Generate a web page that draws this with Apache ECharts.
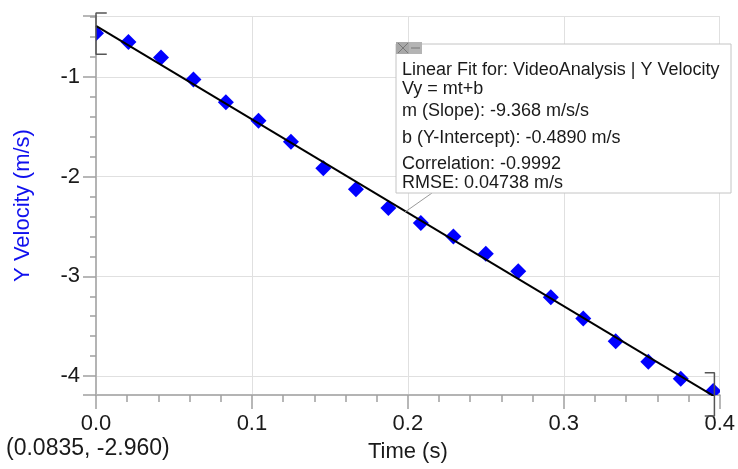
<!DOCTYPE html>
<html>
<head>
<meta charset="utf-8">
<script src="https://cdn.jsdelivr.net/npm/echarts@6/dist/echarts.min.js"></script>
<style>
  html, body { margin: 0; padding: 0; background: #fff; }
  #chart { width: 738px; height: 469px; }
</style>
</head>
<body>
<div id="chart"></div>
<script>
  // measured points (time in s, Y velocity in m/s)
  const timeS = [0, 0.0208, 0.0417, 0.0625, 0.0833, 0.1042, 0.125, 0.1458, 0.1667, 0.1875,
                 0.2083, 0.2292, 0.25, 0.2708, 0.2917, 0.3125, 0.3333, 0.3542, 0.375, 0.3958];
  const yVelocity = [-0.563, -0.65, -0.806, -1.026, -1.256, -1.44, -1.65, -1.916, -2.126, -2.316,
                     -2.466, -2.6, -2.773, -2.95, -3.21, -3.423, -3.65, -3.856, -4.026, -4.15];

  // linear fit Vy = mt+b drawn across the time range
  const fitLine = [[0, -0.489], [0.4, -4.236]];

  // range brackets at both ends of the fit
  const startBracket = [[0.0069, -0.36], [0, -0.36], [0, -0.773], [0.0069, -0.773]];
  const endBracket = [[0.3904, -3.966], [0.3966, -3.966], [0.3966, -4.40], [0.3904, -4.40]];

  const fitText = [
    'Linear Fit for: VideoAnalysis | Y Velocity',
    'Vy = mt+b',
    'm (Slope): -9.368 m/s/s',
    'b (Y-Intercept): -0.4890 m/s',
    'Correlation: -0.9992',
    'RMSE: 0.04738 m/s'
  ];
  const cursorText = '(0.0835, -2.960)';

  const font = '"Liberation Sans", Arial, sans-serif';
  const textRowY = [70, 89, 111, 138.5, 164.5, 183];

  const points = timeS.map((t, i) => [t, yVelocity[i]]);

  const chart = echarts.init(document.getElementById('chart'));

  const boxGraphics = [
    {
      type: 'rect', z: 10,
      shape: { x: 396, y: 44, width: 335, height: 149 },
      style: { fill: '#fff', stroke: '#c4c4c4', lineWidth: 1 }
    },
    {
      type: 'rect', z: 11,
      shape: { x: 396, y: 42, width: 13, height: 12 },
      style: { fill: '#a8a8a8' }
    },
    {
      type: 'rect', z: 11,
      shape: { x: 409, y: 42, width: 13, height: 12 },
      style: { fill: '#b4b4b4' }
    },
    {
      type: 'line', z: 12,
      shape: { x1: 398, y1: 43, x2: 408, y2: 53 },
      style: { stroke: '#777', lineWidth: 1 }
    },
    {
      type: 'line', z: 12,
      shape: { x1: 408, y1: 43, x2: 398, y2: 53 },
      style: { stroke: '#777', lineWidth: 1 }
    },
    {
      type: 'line', z: 12,
      shape: { x1: 411, y1: 48, x2: 420, y2: 48 },
      style: { stroke: '#777', lineWidth: 1 }
    },
    {
      type: 'line', z: 9,
      shape: { x1: 432, y1: 193, x2: 405, y2: 212 },
      style: { stroke: '#9a9a9a', lineWidth: 1 }
    }
  ];

  fitText.forEach((s, i) => {
    boxGraphics.push({
      type: 'text', z: 12,
      x: 402, y: textRowY[i],
      style: {
        text: s, fill: '#1a1a1a', font: '18px ' + font,
        textVerticalAlign: 'middle', textAlign: 'left'
      }
    });
  });

  boxGraphics.push({
    type: 'text', z: 12,
    x: 6, y: 449,
    style: {
      text: cursorText, fill: '#1a1a1a', font: '23px ' + font,
      textVerticalAlign: 'middle', textAlign: 'left'
    }
  });

  chart.setOption({
    animation: false,
    backgroundColor: '#fff',
    grid: { left: 96, right: 18, top: 16, bottom: 74 },
    xAxis: {
      type: 'value',
      min: 0,
      max: 0.4,
      interval: 0.1,
      name: 'Time (s)',
      nameLocation: 'middle',
      nameGap: 46,
      nameTextStyle: { color: '#1a1a1a', fontSize: 22, fontFamily: font },
      axisLine: { onZero: false, lineStyle: { color: '#b4b4b4', width: 2 } },
      axisTick: { length: 14, lineStyle: { color: '#a0a0a0', width: 1.5 } },
      minorTick: { show: true, splitNumber: 5, length: 7, lineStyle: { color: '#a0a0a0', width: 1.5 } },
      axisLabel: {
        color: '#1a1a1a', fontSize: 22, fontFamily: font, margin: 18,
        formatter: v => v.toFixed(1)
      },
      splitLine: { show: true, lineStyle: { color: '#e0e0e0', width: 1 } }
    },
    yAxis: {
      type: 'value',
      min: -4.19,
      max: -0.39,
      name: 'Y Velocity (m/s)',
      nameLocation: 'middle',
      nameGap: 62,
      nameTextStyle: { color: '#1010ee', fontSize: 22, fontFamily: font },
      axisLine: { show: true, onZero: false, lineStyle: { color: '#b4b4b4', width: 2 } },
      axisTick: { show: true, length: 13, lineStyle: { color: '#a0a0a0', width: 1.5 } },
      minorTick: { show: true, splitNumber: 5, length: 6, lineStyle: { color: '#a0a0a0', width: 1.5 } },
      axisLabel: {
        color: '#1a1a1a', fontSize: 22, fontFamily: font, margin: 16,
        showMinLabel: false, showMaxLabel: false
      },
      splitLine: { show: true, lineStyle: { color: '#e0e0e0', width: 1 } }
    },
    graphic: boxGraphics,
    series: [
      {
        type: 'custom',
        name: 'Y Velocity',
        clip: true,
        z: 3,
        data: points,
        encode: { x: 0, y: 1 },
        renderItem: function (params, api) {
          const p = api.coord([api.value(0), api.value(1)]);
          const r = 8;
          return {
            type: 'polygon',
            shape: { points: [[p[0], p[1] - r], [p[0] + r, p[1]], [p[0], p[1] + r], [p[0] - r, p[1]]] },
            style: { fill: '#0000ff' }
          };
        }
      },
      {
        type: 'line',
        name: 'Linear Fit',
        data: fitLine,
        z: 4,
        symbol: 'none',
        clip: true,
        lineStyle: { color: '#000', width: 2 }
      },
      {
        type: 'line',
        data: startBracket,
        z: 5,
        symbol: 'none',
        clip: false,
        lineStyle: { color: '#555', width: 1.5 }
      },
      {
        type: 'line',
        data: endBracket,
        z: 5,
        symbol: 'none',
        clip: false,
        lineStyle: { color: '#555', width: 1.5 }
      }
    ]
  });
</script>
</body>
</html>
